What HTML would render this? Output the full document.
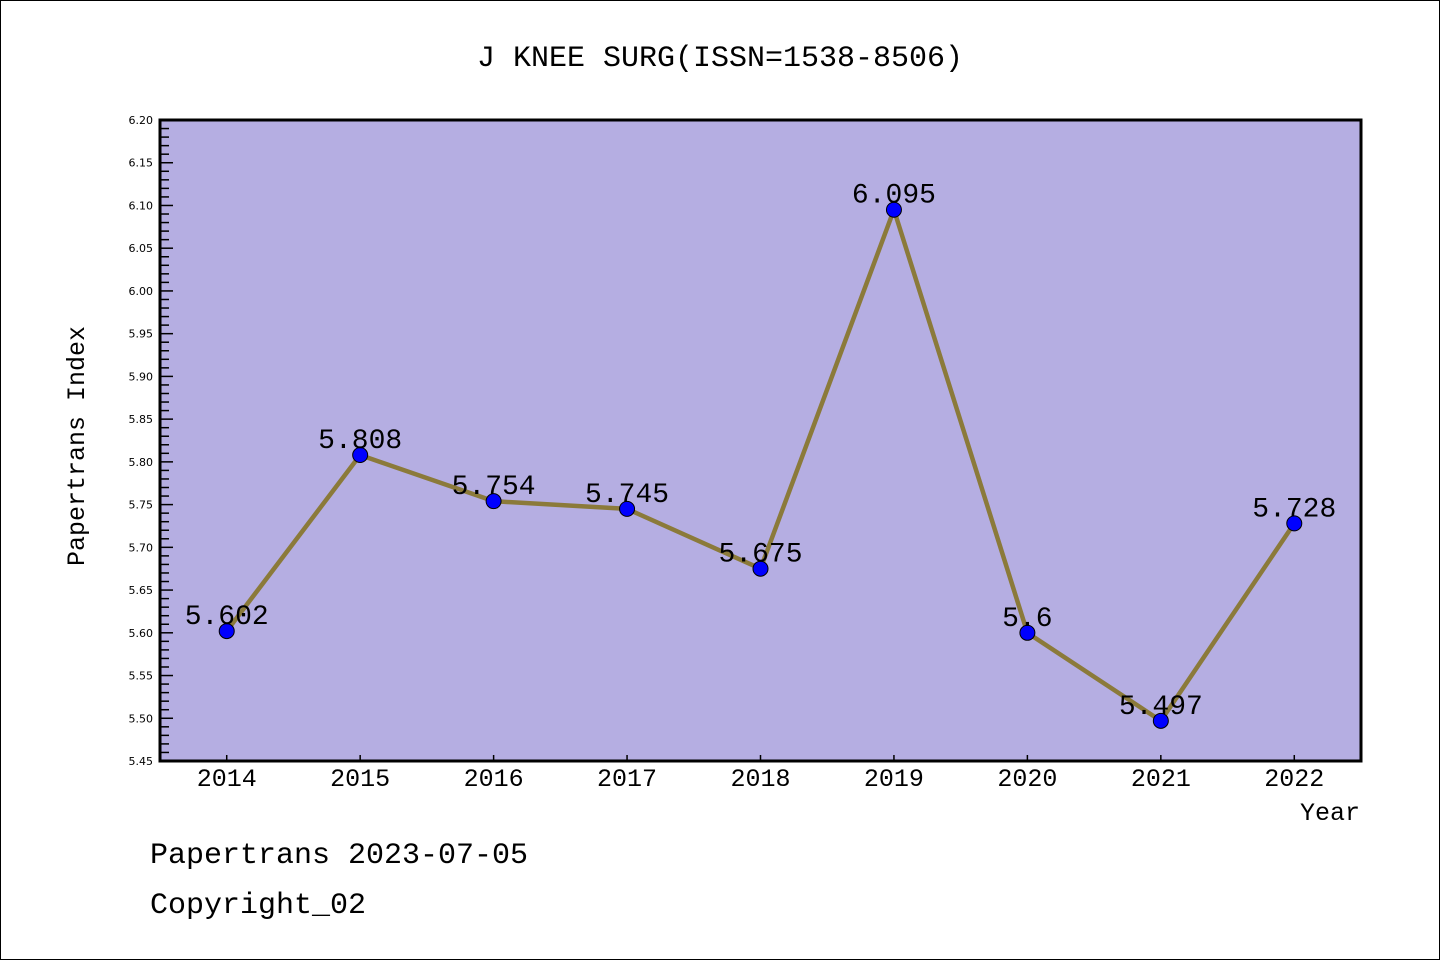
<!DOCTYPE html>
<html><head><meta charset="utf-8"><style>
body{margin:0;background:#fff}
svg text{font-family:"Liberation Mono","WenQuanYi Zen Hei",monospace}
svg text.yt{font-family:"DejaVu Sans","Liberation Sans",sans-serif}
</style></head><body>
<svg width="1440" height="960">
<rect x="0.5" y="0.5" width="1439" height="959" fill="#fff" stroke="#000"/>
<text x="720" y="66" font-size="30" text-anchor="middle">J KNEE SURG(ISSN=1538-8506)</text>
<rect x="160" y="120" width="1201" height="641" fill="#b5aee2"/>
<g id="axes"></g>
<g id="series"></g>
<rect x="160" y="120" width="1201" height="641" fill="none" stroke="#000" stroke-width="3"/>
<text x="1330" y="820" font-size="25" text-anchor="middle">Year</text>
<text transform="translate(84,446) rotate(-90)" font-size="25" text-anchor="middle">Papertrans Index</text>
<text x="150" y="863" font-size="30">Papertrans 2023-07-05</text>
<text x="150" y="913" font-size="30">Copyright_02</text>
</svg>
<script>
const years=["2014","2015","2016","2017","2018","2019","2020","2021","2022"];
const values=[5.602,5.808,5.754,5.745,5.675,6.095,5.6,5.497,5.728];
const yTicks=["5.45","5.50","5.55","5.60","5.65","5.70","5.75","5.80","5.85","5.90","5.95","6.00","6.05","6.10","6.15","6.20"];
const NS="http://www.w3.org/2000/svg";
const X0=160,X1=1361,Y0=761,Y1=120,YMIN=5.45,YMAX=6.20;
const xs=i=>X0+(i+0.5)*(X1-X0)/years.length;
const ys=v=>Y0-(v-YMIN)/(YMAX-YMIN)*(Y0-Y1);
function mk(tag,attrs,parent){const e=document.createElementNS(NS,tag);for(const k in attrs)e.setAttribute(k,attrs[k]);parent.appendChild(e);return e;}
const ax=document.getElementById('axes'),sr=document.getElementById('series');
yTicks.forEach((t,i)=>{const v=parseFloat(t),y=ys(v);
 const l=mk('line',{x1:X0,x2:X0+13,y1:y,y2:y,stroke:'#000','stroke-width':1.5},ax);
 
 
 const tx=mk('text',{x:X0-7,y:y+4,'font-size':11,'text-anchor':'end','class':'yt'},ax);tx.textContent=t;
 
 
 if(i<yTicks.length-1){for(let k=1;k<5;k++){const ym=ys(v+0.01*k);
  const m=mk('line',{x1:X0,x2:X0+9,y1:ym,y2:ym,stroke:'#000','stroke-width':1.5},ax);
  
  }}
});
years.forEach((yr,i)=>{const x=xs(i);
 const l=mk('line',{x1:x,x2:x,y1:Y0,y2:Y0-6,stroke:'#000','stroke-width':1.5},ax);
 
 
 const t=mk('text',{x:x,y:786,'font-size':25,'text-anchor':'middle'},ax);t.textContent=yr;
 
 
});
const pl=mk('polyline',{points:values.map((v,i)=>xs(i)+','+ys(v)).join(' '),fill:'none',stroke:'#8b7a3a','stroke-width':4.5,'stroke-linejoin':'round'},sr);


values.forEach((v,i)=>{
 const c=mk('circle',{cx:xs(i),cy:ys(v),r:7.5,fill:'#0000ff',stroke:'#000','stroke-width':1},sr);
 
 
 const t=mk('text',{x:xs(i),y:ys(v)-7,'font-size':28,'text-anchor':'middle'},sr);t.textContent=String(v);
 
 
});
</script>
</body></html>
